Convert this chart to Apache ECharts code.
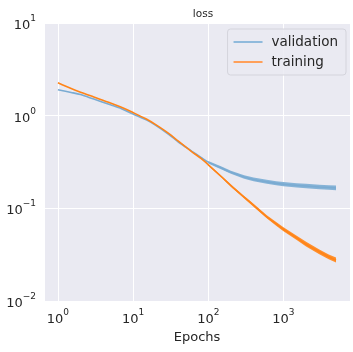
<!DOCTYPE html>
<html>
<head>
<meta charset="utf-8">
<script src="https://cdn.jsdelivr.net/npm/echarts@6/dist/echarts.min.js"></script>
<style>html,body{margin:0;padding:0;background:#fff}#c{width:353px;height:352px}</style>
</head>
<body>
<div id="c"></div>
<script>
var epochs = [1, 1.5, 2, 3, 5, 7, 10, 15, 20, 30, 40, 60, 80, 100, 150, 200, 300, 400, 600, 800, 1000, 1500, 2000, 3000, 4000, 5000];
var validation = [1.90, 1.78, 1.69, 1.51, 1.31, 1.19, 1.04, 0.90, 0.785, 0.625, 0.52, 0.415, 0.355, 0.315, 0.272, 0.245, 0.218, 0.205, 0.193, 0.186, 0.182, 0.177, 0.174, 0.170, 0.168, 0.166];
var training = [2.26, 1.96, 1.79, 1.59, 1.37, 1.23, 1.08, 0.92, 0.80, 0.64, 0.53, 0.41, 0.345, 0.295, 0.219, 0.176, 0.132, 0.108, 0.081, 0.068, 0.0595, 0.048, 0.041, 0.034, 0.030, 0.0275];
// Noise envelope (visible spread of the noisy curves) for later epochs
var bandEpochs = [100, 150, 200, 300, 400, 600, 800, 1000, 1500, 2000, 3000, 4000, 5000];
var validationHigh = [0.325, 0.282, 0.255, 0.228, 0.215, 0.203, 0.196, 0.192, 0.187, 0.184, 0.180, 0.178, 0.176];
var validationLow = [0.305, 0.262, 0.236, 0.209, 0.196, 0.184, 0.177, 0.173, 0.168, 0.165, 0.161, 0.159, 0.157];
var trainingHigh = [0.30, 0.224, 0.181, 0.136, 0.112, 0.084, 0.071, 0.0625, 0.0505, 0.0435, 0.036, 0.0318, 0.0295];
var trainingLow = [0.29, 0.214, 0.171, 0.128, 0.104, 0.078, 0.065, 0.0565, 0.0455, 0.0388, 0.032, 0.0283, 0.026];
var titleText = 'loss';
var xName = 'Epochs';
var seriesNames = ['validation', 'training'];

var FONT = 'DejaVu Sans';
var TXT = '#262626';
var BLUE = '#7aabd2';
var BLUE_BAND = '#86b3d7';
var ORANGE = '#ff8418';
var ORANGE_BAND = '#ff8f2c';

function pairs(xs, ys) { return xs.map(function (x, i) { return [x, ys[i]]; }); }

function powLabel(v) {
  var l = Math.log10(v);
  var r = Math.round(l);
  if (Math.abs(l - r) > 1e-6) return '';
  var e = r < 0 ? '\u2212' + (-r) : '' + r;
  return '{b|10}{s|' + e + '}';
}
var rich = {
  b: { fontSize: 13, fontFamily: FONT, color: TXT, verticalAlign: 'bottom', lineHeight: 18 },
  s: { fontSize: 9, fontFamily: FONT, color: TXT, verticalAlign: 'top', lineHeight: 18 }
};

function bandSeries(name, high, low, color) {
  return {
    type: 'custom',
    name: name + '_band',
    silent: true,
    clip: true,
    z: name === 'training' ? 3 : 1,
    data: [[bandEpochs[0], high[0]]],
    renderItem: function (params, api) {
      var pts = [];
      for (var i = 0; i < bandEpochs.length; i++) pts.push(api.coord([bandEpochs[i], high[i]]));
      for (var j = bandEpochs.length - 1; j >= 0; j--) pts.push(api.coord([bandEpochs[j], low[j]]));
      return { type: 'polygon', shape: { points: pts }, style: { fill: color } };
    }
  };
}

var chart = echarts.init(document.getElementById('c'), null, { renderer: 'canvas' });
chart.setOption({
  animation: false,
  backgroundColor: '#ffffff',
  title: {
    text: titleText, left: 198, top: 4, textAlign: 'center',
    textStyle: { fontFamily: FONT, fontSize: 10.5, fontWeight: 'normal', color: TXT }
  },
  legend: {
    orient: 'vertical', right: 7, top: 29,
    backgroundColor: 'rgba(234,234,242,0.85)', borderColor: '#d4d4dc', borderWidth: 1, borderRadius: 3,
    padding: [6, 8, 6, 6], itemGap: 6, itemWidth: 29, itemHeight: 2, icon: 'rect',
    textStyle: { fontFamily: FONT, fontSize: 13.5, color: TXT, padding: [0, 0, 0, 4] },
    data: [
      { name: seriesNames[0], itemStyle: { color: '#90badc' } },
      { name: seriesNames[1], itemStyle: { color: '#ffa05a' } }
    ]
  },
  grid: { left: 44, right: 1, top: 23, bottom: 51, show: true, backgroundColor: '#eaeaf2', borderWidth: 0 },
  xAxis: {
    type: 'log', logBase: 10, min: Math.pow(10, -0.185), max: Math.pow(10, 3.885),
    name: xName, nameLocation: 'middle', nameGap: 29,
    nameTextStyle: { fontFamily: FONT, fontSize: 13, color: TXT },
    axisLine: { show: false }, axisTick: { show: false }, minorTick: { show: false },
    axisLabel: { formatter: powLabel, rich: rich, margin: 7, showMinLabel: true, showMaxLabel: true },
    splitLine: { show: true, lineStyle: { color: '#ffffff', width: 1 } }
  },
  yAxis: {
    type: 'log', logBase: 10, min: 0.01, max: 10,
    axisLine: { show: false }, axisTick: { show: false },
    axisLabel: { formatter: powLabel, rich: rich, margin: 8 },
    splitLine: { show: true, lineStyle: { color: '#ffffff', width: 1 } }
  },
  series: [
    bandSeries('validation', validationHigh, validationLow, BLUE_BAND),
    {
      type: 'line', name: seriesNames[0], data: pairs(epochs, validation), z: 2,
      symbol: 'none', smooth: 0.3, color: BLUE, lineStyle: { color: BLUE, width: 1.6 }
    },
    bandSeries('training', trainingHigh, trainingLow, ORANGE_BAND),
    {
      type: 'line', name: seriesNames[1], data: pairs(epochs, training), z: 4,
      symbol: 'none', smooth: 0.3, color: ORANGE, lineStyle: { color: ORANGE, width: 1.6 }
    }
  ]
});
</script>
</body>
</html>
